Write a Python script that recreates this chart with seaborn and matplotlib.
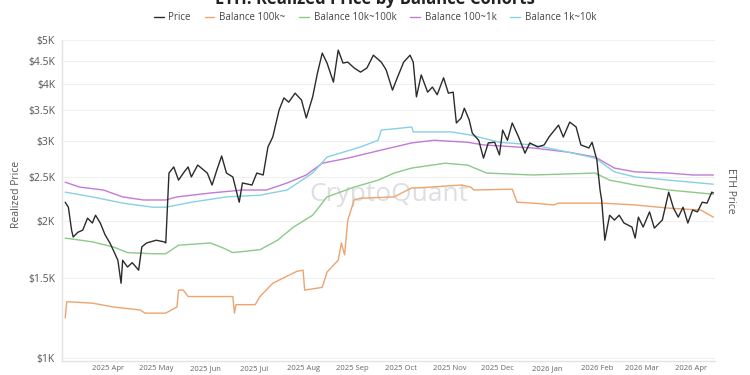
import pandas as pd
import numpy as np
import matplotlib
matplotlib.use("Agg")
import matplotlib.pyplot as plt
import matplotlib.dates as mdates
import seaborn as sns

price_dates = [
    "2025-03-05", "2025-03-07", "2025-03-09", "2025-03-10", "2025-03-13", "2025-03-16",
    "2025-03-19", "2025-03-22", "2025-03-24", "2025-03-27", "2025-03-30", "2025-04-02",
    "2025-04-04", "2025-04-07", "2025-04-09", "2025-04-10", "2025-04-13", "2025-04-16",
    "2025-04-20", "2025-04-22", "2025-04-25", "2025-05-01", "2025-05-06", "2025-05-07",
    "2025-05-09", "2025-05-12", "2025-05-15", "2025-05-18", "2025-05-21", "2025-05-23",
    "2025-05-27", "2025-06-02", "2025-06-05", "2025-06-08", "2025-06-11", "2025-06-14",
    "2025-06-18", "2025-06-22", "2025-06-24", "2025-06-30", "2025-07-03", "2025-07-07",
    "2025-07-10", "2025-07-13", "2025-07-17", "2025-07-20", "2025-07-23", "2025-07-27",
    "2025-07-31", "2025-08-03", "2025-08-07", "2025-08-10", "2025-08-13", "2025-08-16",
    "2025-08-20", "2025-08-23", "2025-08-26", "2025-08-29", "2025-09-02", "2025-09-06",
    "2025-09-10", "2025-09-14", "2025-09-19", "2025-09-22", "2025-09-26", "2025-09-29",
    "2025-10-03", "2025-10-07", "2025-10-09", "2025-10-11", "2025-10-14", "2025-10-18",
    "2025-10-21", "2025-10-24", "2025-10-28", "2025-10-31", "2025-11-03", "2025-11-05",
    "2025-11-08", "2025-11-10", "2025-11-13", "2025-11-15", "2025-11-19", "2025-11-22",
    "2025-11-25", "2025-11-29", "2025-12-02", "2025-12-04", "2025-12-07", "2025-12-10",
    "2025-12-14", "2025-12-18", "2025-12-21", "2025-12-26", "2025-12-30", "2026-01-02",
    "2026-01-08", "2026-01-11", "2026-01-15", "2026-01-19", "2026-01-22", "2026-01-27",
    "2026-01-29", "2026-02-01", "2026-02-03", "2026-02-04", "2026-02-05", "2026-02-06",
    "2026-02-09", "2026-02-12", "2026-02-15", "2026-02-18", "2026-02-23", "2026-02-25",
    "2026-02-27", "2026-03-02", "2026-03-06", "2026-03-09", "2026-03-14", "2026-03-18",
    "2026-03-21", "2026-03-24", "2026-03-27", "2026-03-30", "2026-04-02", "2026-04-05",
    "2026-04-08", "2026-04-11", "2026-04-14", "2026-04-15",
]
price = [
    2200, 2145, 1910, 1845, 1890, 1910,
    2030, 1980, 2060, 1980, 1865, 1790,
    1730, 1640, 1460, 1640, 1585, 1620,
    1560, 1755, 1790, 1815, 1800, 1790,
    2550, 2630, 2460, 2550, 2630, 2500,
    2655, 2550, 2400, 2590, 2780, 2550,
    2500, 2200, 2425, 2400, 2550, 2525,
    2910, 3060, 3510, 3730, 3650, 3820,
    3690, 3370, 3750, 4230, 4680, 4450,
    4040, 4750, 4450, 4470, 4340, 4250,
    4340, 4630, 4470, 4300, 3880, 4130,
    4470, 4630, 4470, 3750, 4190, 3840,
    3940, 3790, 4130, 3820, 3840, 3285,
    3370, 3540, 3340, 3120, 3010, 2750,
    2970, 2980, 2795, 3170, 3010, 3285,
    3060, 2820, 2970, 2910, 2940, 3060,
    3250, 3060, 3300, 3220, 2940, 2895,
    2980, 2725, 2340, 2225, 2010, 1815,
    2060, 2010, 2060, 1980, 1940, 1835,
    2040, 1940, 2095, 1930, 2010, 2315,
    2135, 2040, 2145, 1980, 2115, 2095,
    2200, 2190, 2315, 2305,
]

# Balance 100k~
whale_dates = [
    "2025-03-05", "2025-03-06", "2025-03-22", "2025-04-04", "2025-04-21", "2025-04-24",
    "2025-05-07", "2025-05-14", "2025-05-15", "2025-05-18", "2025-05-21", "2025-06-14",
    "2025-06-18", "2025-06-19", "2025-06-20", "2025-07-02", "2025-07-05", "2025-07-13",
    "2025-07-28", "2025-08-01", "2025-08-02", "2025-08-13", "2025-08-16", "2025-08-23",
    "2025-08-25", "2025-08-27", "2025-08-29", "2025-09-02", "2025-09-06", "2025-09-27",
    "2025-10-08", "2025-10-12", "2025-11-08", "2025-11-14", "2025-11-16", "2025-12-10",
    "2025-12-13", "2025-12-23", "2026-01-05", "2026-01-08", "2026-01-14", "2026-02-04",
    "2026-02-25", "2026-03-18", "2026-04-07", "2026-04-15",
]
whale = [
    1225, 1330, 1320, 1295, 1275, 1255,
    1255, 1295, 1410, 1410, 1365, 1365,
    1365, 1255, 1310, 1310, 1365, 1460,
    1550, 1560, 1410, 1430, 1545, 1640,
    1790, 1685, 2010, 2225, 2245, 2260,
    2365, 2365, 2400, 2375, 2340, 2350,
    2200, 2190, 2170, 2190, 2190, 2190,
    2170, 2135, 2115, 2040,
]

# Balance 10k~100k
large_dates = [
    "2025-03-05", "2025-03-22", "2025-04-04", "2025-04-13", "2025-04-29", "2025-05-07",
    "2025-05-15", "2025-06-04", "2025-06-12", "2025-06-18", "2025-07-05", "2025-07-16",
    "2025-07-26", "2025-08-07", "2025-08-16", "2025-09-02", "2025-09-17", "2025-09-27",
    "2025-10-08", "2025-10-29", "2025-11-12", "2025-11-24", "2025-12-23", "2026-01-31",
    "2026-02-09", "2026-02-25", "2026-03-18", "2026-04-07", "2026-04-15",
]
large = [
    1835, 1800, 1755, 1705, 1695, 1695,
    1770, 1790, 1745, 1705, 1730, 1815,
    1940, 2060, 2260, 2375, 2460, 2550,
    2615, 2680, 2655, 2550, 2525, 2550,
    2460, 2400, 2340, 2305, 2290,
]

# Balance 100~1k
small_dates = [
    "2025-03-05", "2025-03-14", "2025-03-29", "2025-04-10", "2025-04-23", "2025-05-07",
    "2025-05-14", "2025-06-04", "2025-06-24", "2025-07-09", "2025-07-22", "2025-08-03",
    "2025-08-13", "2025-08-29", "2025-09-19", "2025-10-08", "2025-10-22", "2025-11-12",
    "2025-11-22", "2025-12-23", "2026-01-14", "2026-01-31", "2026-02-12", "2026-02-25",
    "2026-03-18", "2026-04-02", "2026-04-15",
]
small = [
    2435, 2375, 2340, 2260, 2225, 2225,
    2260, 2305, 2340, 2340, 2425, 2525,
    2680, 2750, 2865, 2970, 3010, 2980,
    2940, 2895, 2835, 2765, 2615, 2565,
    2550, 2525, 2525,
]

# Balance 1k~10k
mid_dates = [
    "2025-03-05", "2025-03-22", "2025-04-10", "2025-04-29", "2025-05-07", "2025-05-23",
    "2025-06-14", "2025-07-05", "2025-07-22", "2025-08-07", "2025-08-16", "2025-09-06",
    "2025-09-17", "2025-09-19", "2025-10-01", "2025-10-08", "2025-10-09", "2025-11-02",
    "2025-11-14", "2025-12-02", "2025-12-23", "2026-01-14", "2026-01-31", "2026-02-12",
    "2026-02-25", "2026-03-18", "2026-04-15",
]
mid = [
    2315, 2260, 2190, 2145, 2145, 2200,
    2260, 2280, 2340, 2550, 2765, 2910,
    3010, 3170, 3200, 3220, 3140, 3140,
    3090, 2980, 2940, 2835, 2750, 2565,
    2500, 2460, 2410,
]

series = [
    ("Price", price_dates, price, "#2b2b2b", 1.0),
    ("Balance 100k~", whale_dates, whale, "#eda46e", 1.0),
    ("Balance 10k~100k", large_dates, large, "#8dc98a", 1.0),
    ("Balance 100~1k", small_dates, small, "#c27ad6", 1.0),
    ("Balance 1k~10k", mid_dates, mid, "#86d2e2", 1.0),
]

y_ticks = [1000, 1500, 2000, 2500, 3000, 3500, 4000, 4500, 5000]
y_labels = ["$1K", "$1.5K", "$2K", "$2.5K", "$3K", "$3.5K", "$4K", "$4.5K", "$5K"]

sns.set_style("white")
plt.rcParams["font.family"] = ["Open Sans", "DejaVu Sans"]

fig = plt.figure(figsize=(7.5, 3.75), dpi=100)
ax = fig.add_axes([62 / 750, 1 - 361 / 375, (715 - 62) / 750, (361 - 40) / 375])

# draw cohorts first, price on top
for name, d, v, c, lw in series[1:] + series[:1]:
    sns.lineplot(x=pd.to_datetime(d), y=v, ax=ax, color=c, linewidth=lw, label=name)

ax.set_yscale("log")
ax.set_ylim(985, 5000)
ax.set_xlim(pd.Timestamp("2025-03-03"), pd.Timestamp("2026-04-16"))
ax.yaxis.set_major_locator(matplotlib.ticker.FixedLocator(y_ticks))
ax.yaxis.set_minor_locator(matplotlib.ticker.NullLocator())
ax.set_yticklabels(y_labels)
ax.xaxis.set_major_locator(mdates.MonthLocator())
ax.xaxis.set_major_formatter(mdates.DateFormatter("%Y %b"))

ax.grid(axis="y", color="#f0f0f0", linewidth=0.8)
ax.grid(axis="x", visible=False)
for s in ["top", "right"]:
    ax.spines[s].set_visible(False)
for s in ["left", "bottom"]:
    ax.spines[s].set_color("#e3e3e3")
    ax.spines[s].set_linewidth(1.0)
ax.tick_params(axis="y", length=0, labelsize=7.5, labelcolor="#555555", pad=5)
ax.tick_params(axis="x", length=2, color="#e3e3e3", labelsize=5.5, labelcolor="#666666", pad=1)

ax.set_xlabel("")
ax.set_ylabel("Realized Price", fontsize=7.5, color="#555555")
ax.yaxis.set_label_coords(-0.061, 0.52)

# right-hand label
ax.text(1.015, 0.53, "ETH Price", transform=ax.transAxes, rotation=270,
        ha="left", va="center", fontsize=7.5, color="#555555")

# watermark
ax.text(0.5, 0.52, "CryptoQuant", transform=ax.transAxes, ha="center", va="center",
        fontsize=19, color="#d6d6dc", alpha=0.8, zorder=0)

# title, mostly cropped at the top edge like the reference
fig.text(0.5, 1.004, "ETH: Realized Price by Balance Cohorts", ha="center", va="center",
         fontsize=12, fontweight="bold", color="#222222")

handles, labels = ax.get_legend_handles_labels()
order = [labels.index(n) for n, *_ in series]
ax.legend([handles[i] for i in order], [labels[i] for i in order],
          loc="center", bbox_to_anchor=(0.5, 1 - 18 / 375), bbox_transform=fig.transFigure,
          ncol=5, frameon=False, fontsize=7, labelcolor="#444444",
          handlelength=1.0, handletextpad=0.5, columnspacing=1.4)

plt.savefig("out.png", dpi=100)
